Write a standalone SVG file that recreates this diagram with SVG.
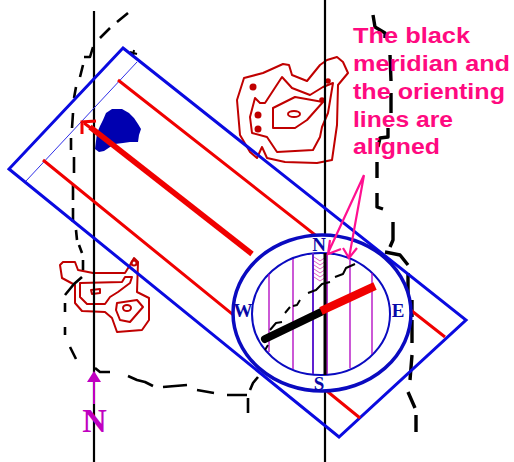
<svg xmlns="http://www.w3.org/2000/svg" width="514" height="462" viewBox="0 0 514 462">
<defs>
<style>
.trail{fill:none;stroke:#000;stroke-width:2.6;stroke-linejoin:round}
.contour{fill:none;stroke:#c00000;stroke-width:2;stroke-linejoin:round}
.dot{fill:#c00000;stroke:none}
.red{fill:none;stroke:#f00000;stroke-width:3}
.mer{fill:none;stroke:#000;stroke-width:2.2}
.orient{stroke:#b000c0;stroke-width:1.3}
.card{font-family:"Liberation Serif",serif;font-weight:700;font-size:19px;fill:#0808a8;text-anchor:middle}
.pink{font-family:"Liberation Sans",Arial,sans-serif;font-weight:700;font-size:22px;fill:#ff0a80}
.parrow{fill:none;stroke:#ff1090;stroke-width:2.2}
</style>
</defs>
<rect width="514" height="462" fill="#fff"/>
<g id="blob"><polygon fill="#0000b0" points="103,120 106,113 112,109 122,109 129,113 134,118 138,124 141,129 139,135 138,142 130,142 123,143 115,144 110,147 104,151 99,152 95,149 96,141 97,133 100,126"/></g>
<g id="contours-north">
<path class="contour" d="M244,78 263,73 283,64 289,65 292,75 307,81 320,65 327,60 337,57 343,62 348,73 338,85 337,125 332,160 317,163 285,162 267,158 262,147 257,158 250,152 240,135 237,100Z"/>
<path class="contour" d="M255,98 260,103 265,103 282,77 292,88 310,95 323,87 333,83 328,113 322,127 320,137 313,150 277,152 267,137 252,133 250,117Z"/>
<path class="contour" d="M273,108 295,97 323,102 307,120 295,128 273,128Z"/>
<ellipse class="contour" cx="294" cy="114" rx="6" ry="3"/>
<circle class="dot" cx="253" cy="87" r="3.5"/><circle class="dot" cx="258" cy="115" r="3.5"/><circle class="dot" cx="258" cy="129" r="3.5"/><circle class="dot" cx="322" cy="100" r="2.8"/><circle class="dot" cx="328" cy="81" r="2.8"/>
</g>
<g id="contours-south">
<path class="contour" d="M60,265 63,262 75,262 78,270 93,273 125,273 130,265 134,258 138,262 137,292 149,298 149,320 142,330 117,332 112,318 105,312 82,311 75,303 75,285 62,278Z"/>
<path class="contour" d="M80,283 122,282 125,277 132,277 130,283 118,292 110,297 105,304 87,304 80,297Z"/>
<path class="contour" d="M91,290 100,289 100,293 92,294Z"/>
<path class="contour" d="M117,303 137,300 143,307 130,322 120,320 116,310Z"/>
<ellipse class="contour" cx="127" cy="308" rx="4" ry="3"/>
<circle class="contour" cx="134" cy="263" r="2.5"/>
</g>
<g id="connectors">
<path class="mer" d="M94,11V462M325,0V462"/>
<g id="trail">
<path class="trail" d="M128,13 117,22M110,28 100,38M93,47 90,57 84,57M83,65 80,77M76,87 74,98M73,113 72,128M71,138 71,150M74,157 74,173M73,185 73,200M73,208 73,222M76,230 77,240M79,245 82,253M83,260 83,270M82,277 74,284 65,295M65,303 65,312M65,327 65,335M70,347 76,359M95,368 100,372 110,372M128,376 137,380 145,382 153,386M163,387 187,385M197,390 214,393M227,395 247,395M248,398 248,413M250,390 253,383 258,377"/>
<path class="trail" style="stroke-width:3.4" d="M373,15 375,27 385,33 385,38M390,55 391,81M391,93 391,113M388,128 388,137 380,138 378,147M377,162 377,178M377,193 377,207 383,209M393,222 393,240 390,247M385,252 400,255 408,265M408,273 408,297M412,300 412,317M412,320 412,343M412,355 410,380M408,392 415,408M416,415 416,432"/>
<path class="trail" style="stroke-width:2" d="M130,52 137,54M134,50 133,56"/>
</g>
</g>
<g id="baseplate">
<polygon points="123,48 466,320 339,437 9,169" fill="none" stroke="#0a0ae0" stroke-width="3"/>
<path d="M137,62 26,181" stroke="#3030e8" stroke-width="1" fill="none"/>
<path class="red" d="M118,80 445,337M43,160 360,418"/>
<path d="M252,254 90,127" stroke="#f00000" stroke-width="5.5" fill="none"/>
<path d="M82,134 82,122 96,121" stroke="#f00000" stroke-width="3" fill="none"/>
<path d="M84,123 96,132" stroke="#f00000" stroke-width="3" fill="none"/>
</g>
<g id="compass">
<ellipse cx="322" cy="313" rx="89" ry="78" fill="#fff" stroke="#0a0ac0" stroke-width="3.5"/>
<ellipse cx="321" cy="314" rx="69" ry="61" fill="#fff" stroke="#0a0ac0" stroke-width="2"/>
<path class="orient" d="M269,274V352M293,259V369M350,260V368M372,273V354"/>
<path d="M313,253V374" stroke="#6020d0" stroke-width="2" fill="none"/>
<path d="M327,253V374" stroke="#a000c0" stroke-width="1.6" fill="none"/>
<path d="M314,257 320,261 326,257M314,261 320,265 326,261M314,265 320,269 326,265M314,269 320,273 326,269M314,273 320,277 326,273M314,277 320,281 326,277" fill="none" stroke="#e060c0" stroke-width="1"/>
<path d="M325,253V375" stroke="#000" stroke-width="3" fill="none"/>
<path class="trail" style="stroke-width:2" d="M355,264 346,268 343,274 335,277M330,282 322,284 316,290 308,293M300,300 297,305 293,306M290,307 285,313M282,322 276,323 270,330M268,345 265,350"/>
<path d="M265,339 321,312" stroke="#000" stroke-width="8" stroke-linecap="round" fill="none"/>
<path d="M321,311 375,286" stroke="#f00000" stroke-width="8" fill="none"/>
<text class="card" x="319" y="251">N</text>
<text class="card" x="243" y="317">W</text>
<text class="card" x="398" y="317">E</text>
<text class="card" x="319" y="390">S</text>
</g>
<g id="north-arrow">
<path d="M94,382V404" stroke="#c000c0" stroke-width="2" fill="none"/>
<polygon points="94,371 87,382 101,382" fill="#c000c0"/>
<text x="94.5" y="432" font-family="'Liberation Serif',serif" font-weight="700" font-size="34" fill="#c000c0" text-anchor="middle">N</text>
</g>
<g id="label">
<text class="pink" x="353" y="43" textLength="117" lengthAdjust="spacingAndGlyphs">The black</text>
<text class="pink" x="353" y="71" textLength="157" lengthAdjust="spacingAndGlyphs">meridian and</text>
<text class="pink" x="353" y="99" textLength="152" lengthAdjust="spacingAndGlyphs">the orienting</text>
<text class="pink" x="353" y="127" textLength="100" lengthAdjust="spacingAndGlyphs">lines are</text>
<text class="pink" x="353" y="154" textLength="87" lengthAdjust="spacingAndGlyphs">aligned</text>
<path class="parrow" d="M364,175 328,253M364,175 349,258M330,240 328,254 341,249M343,248 349,258 357,248"/>
</g>
</svg>
